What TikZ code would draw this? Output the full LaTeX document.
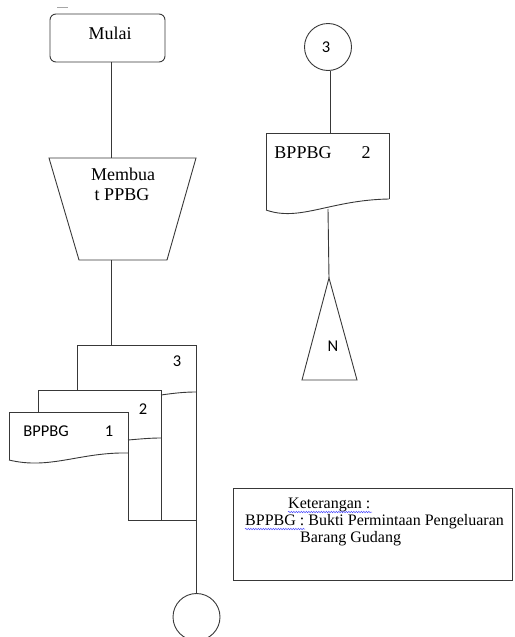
\documentclass[tikz,border=0pt]{standalone}
\usepackage{fontspec}
\setmainfont{Liberation Serif}
\newfontfamily\docfont{Carlito}
\usetikzlibrary{decorations.pathmorphing}

\tikzset{
  ln/.style={draw=black!78, line width=0.9pt},
  serif/.style={font=\fontsize{18}{20}\selectfont, inner sep=0pt},
  sans/.style={font=\docfont\fontsize{16.5}{18}\selectfont, inner sep=0pt},
  note/.style={font=\fontsize{16}{17}\selectfont, inner sep=0pt, anchor=west},
  spell/.style={draw=blue!70, line width=0.5pt, decorate,
    decoration={snake, amplitude=0.7pt, segment length=2.5pt}},
  conn/.style={ln, circle, minimum size=47pt, inner sep=0pt}
}

\begin{document}
\begin{tikzpicture}[x=1pt, y=-1pt]
\useasboundingbox (0,0) rectangle (514,637);

% small mark at the top left
\draw[black!35, line width=0.6pt] (57,7) -- (68,7);

% ---------- left column ----------
% start terminator
\node[ln, rounded corners=6pt, minimum width=115pt, minimum height=48pt]
  (mulai) at (107.5,38) {};
\node[serif] (mulaitxt) at (110,33) {Mulai};

% manual operation
\draw[ln] (49,158) coordinate (trTL) -- (196,158) coordinate (trTR)
  -- (167,260) coordinate (trBR) -- (79,260) coordinate (trBL) -- cycle;
\coordinate (trIn)  at (111,158);
\coordinate (trOut) at (111,260);
\node[serif] (mb1) at (123,174) {Membua};
\node[serif] (mb2) at (122,195) {t PPBG};

% document stack 3 / 2 / 1
\coordinate (d3in) at (111,345);
\coordinate (d3TL) at (77,345);
\coordinate (d3TR) at (196,345);
\coordinate (d3BR) at (196,520);
\coordinate (d2TL) at (38,390);
\coordinate (d2TR) at (161,390);
\coordinate (d2BR) at (161,520);
\coordinate (d1TL) at (9,412);
\coordinate (d1TR) at (128,412);
\coordinate (d1BR) at (128,520);

% copy 3
\draw[ln] (77,390) -- (d3TL) -- (d3TR) -- (d3BR);
\draw[ln] (161,395) .. controls (175,393) and (185,392) .. (196,392);
% copy 2
\draw[ln] (38,412) -- (d2TL) -- (d2TR) -- (d2BR);
\draw[ln] (128,440) .. controls (140,439) and (150,438) .. (161,438);
% copy 1
\draw[ln] (9,460) -- (d1TL) -- (d1TR) -- (d1BR);
\draw[ln] (9,460) .. controls (50,470) and (80,452) .. (128,453);
% joining line under the copies
\draw[ln] (d1BR) -- (d3BR);

\node[sans] (n3) at (177,361) {3};
\node[sans] (n2) at (143,409) {2};
\node[sans] (bp1) at (46,431) {BPPBG};
\node[sans] (n1) at (109,431) {1};

% off-page connector at the bottom
\node[conn] (cbot) at (196.5,617) {};

% connections
\draw[ln] (mulai.south -| trIn) -- (trIn);
\draw[ln] (trOut) -- (d3in);
\draw[ln] (d3BR) -- (cbot.north -| d3BR);

% ---------- right column ----------
\node[conn] (c3) at (328,47) {};
\node[sans] (c3txt) at (326,47) {3};

\coordinate (r2TL) at (266,133);
\coordinate (r2TR) at (389,133);
\coordinate (r2in) at (330,133);
\draw[ln] (266,210) -- (r2TL) -- (r2TR) -- (389,199);
\draw[ln] (266,210) .. controls (300,222) and (330,200) .. (389,199);
\coordinate (r2out) at (328,209);
\node[serif] (bp2) at (303,153) {BPPBG};
\node[serif] (bp2n) at (366,153) {2};

% archive (triangle)
\coordinate (tri) at (329,278);
\draw[ln] (tri) -- (357,380) -- (302,380) -- cycle;
\node[sans] (ntxt) at (333,346) {N};

\draw[ln] (c3.south -| r2in) -- (r2in);
\draw[ln] (r2out) -- (tri);

% ---------- legend ----------
\node[ln, minimum width=279pt, minimum height=92pt, inner sep=0pt]
  (legend) at (372.5,534) {};
\node[note] (k1) at (288,505) {Keterangan :};
\node[note] (k2) at (245,522) {BPPBG : Bukti Permintaan Pengeluaran};
\node[note] (k3) at (300,539) {Barang Gudang};
\draw[spell] (288,512) -- (372,512);
\draw[spell] (245,529) -- (305,529);
\end{tikzpicture}
\end{document}
